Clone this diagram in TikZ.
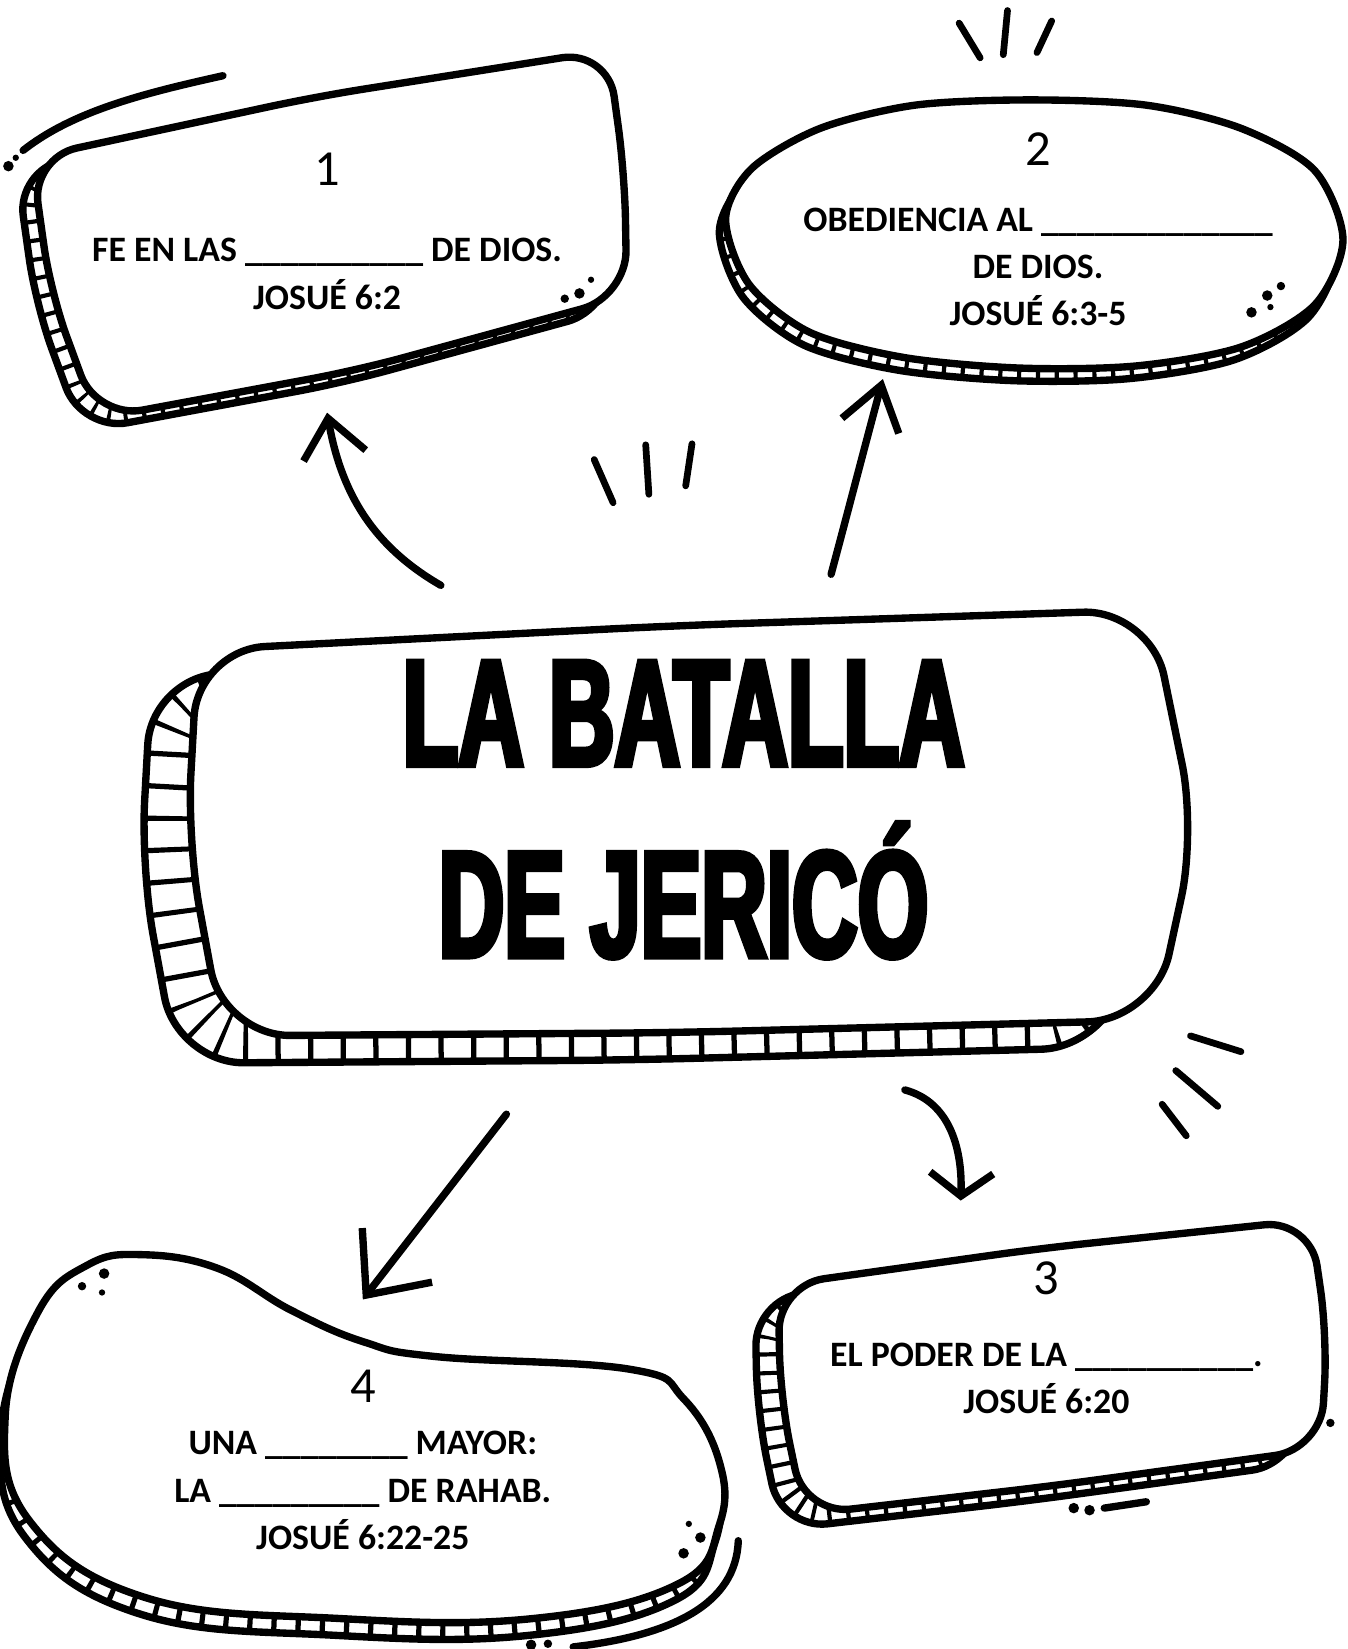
\documentclass[tikz,border=0pt]{standalone}
\usepackage{fontspec}
\setmainfont{Carlito}
\newfontfamily\titulofont[FakeStretch=0.6,BoldFeatures={FakeBold=3.5}]{Liberation Sans}
\usetikzlibrary{arrows.meta}

% formas de los marcos
\newcommand{\formauno}{(30,150) -- (300,92) -- (578,48) -- (594,165) -- (596,282) -- (340,352) -- (92,398) -- (48,278) -- cycle}
\newcommand{\formados}{plot[smooth cycle] coordinates {(690,208) (715,160) (780,122) (870,100) (980,95) (1090,100) (1180,122) (1250,162) (1277,228) (1250,290) (1180,330) (1080,348) (970,350) (860,340) (770,316) (712,270)}}
\newcommand{\formatitulo}{(188,618) -- (640,595) -- (1094,580) -- (1137,790) -- (1098,970) -- (640,982) -- (212,985) -- (178,800) -- cycle}
\newcommand{\formatres}{(740,1222) -- (990,1187) -- (1246,1160) -- (1262,1270) -- (1256,1378) -- (1000,1413) -- (765,1440) -- (742,1330) -- cycle}
\newcommand{\formacuatro}{plot[smooth cycle,tension=0.7] coordinates {(134,1193) (207,1206) (277,1246) (346,1276) (415,1290) (599,1302) (650,1330) (684,1390) (684,1450) (645,1506) (507,1539) (323,1539) (138,1519) (28,1446) (5,1346) (37,1246) (83,1203)}}

% marco con banda rayada
\newcommand{\marco}[4]{%
  \begin{scope}[shift={#2}]
    \fill[white,#3] #1;
    \begin{scope}
      \clip[#3] #1;
      \draw[#3,#4] #1;
    \end{scope}
    \draw[borde,#3] #1;
  \end{scope}
  \filldraw[fill=white,borde,#3] #1;
}
\newcommand{\numero}[1]{{\mdseries\fontsize{24}{24}\selectfont #1}}

\begin{document}
\begin{tikzpicture}[x=0.5pt,y=-0.5pt,
    borde/.style={line width=3.5pt,line join=round,line cap=round},
    rayo/.style={line width=3.2pt,line cap=round},
    flecha/.style={line width=3.5pt,line cap=round,line join=round},
    texto/.style={align=center,font=\bfseries\fontsize{17}{22.5}\selectfont}]
\useasboundingbox (0,0) rectangle (1281,1568);

\marco{\formauno}{(-14,12)}{rounded corners=22pt}{line width=26pt,dash pattern=on 2pt off 7pt}
\marco{\formados}{(-6,12)}{}{line width=22pt,dash pattern=on 2pt off 7pt}
\marco{\formatitulo}{(-44,26)}{rounded corners=32pt}{line width=56pt,dash pattern=on 2.5pt off 13pt}
\marco{\formatres}{(-22,14)}{rounded corners=22pt}{line width=28pt,dash pattern=on 2pt off 7pt}
\marco{\formacuatro}{(-4,16)}{}{line width=22pt,dash pattern=on 2.5pt off 9pt}

% trazos sueltos
\draw[borde] (22,143) .. controls (70,105) and (140,88) .. (212,72);
\fill (8,158) circle (2.5pt) (15,150) circle (1.5pt);
\fill (537,284) circle (2pt) (551,279) circle (2.5pt) (562,266) circle (1.5pt);
\fill (1205,281) circle (2.5pt) (1218,272) circle (2pt) (1190,297) circle (2.5pt) (1208,292) circle (1.5pt);
\fill (99,1211) circle (2.5pt) (78,1223) circle (2pt) (97,1229) circle (1.5pt);
\fill (655,1449) circle (1.5pt) (666,1462) circle (2.5pt) (650,1477) circle (2.5pt);
\draw[borde] (702,1465) .. controls (700,1525) and (640,1555) .. (545,1566);
\fill (505,1564) circle (2.5pt) (521,1563) circle (2pt);
\fill (1021,1434) circle (2.5pt) (1036,1436) circle (2.5pt) (1265,1353) circle (2pt);
\draw[borde] (1050,1434) -- (1090,1428);

% rayitas
\draw[rayo] (912,22) -- (932,55) (958,10) -- (954,52) (1000,20) -- (986,50);
\draw[rayo] (565,437) -- (583,478) (614,423) -- (617,470) (658,422) -- (652,462);
\draw[rayo] (1132,985) -- (1180,1000) (1118,1018) -- (1158,1052) (1105,1050) -- (1128,1080);

% textos
\node[texto,minimum width=285pt,minimum height=172pt] (1) at (311,220) {\numero{1}\\[13.5pt]FE EN LAS \_\_\_\_\_\_\_\_\_\_ DE DIOS.\\JOSUÉ 6:2};
\node[texto,minimum width=292pt,minimum height=142pt] (2) at (987,218) {\numero{2}\\[9pt]OBEDIENCIA AL \_\_\_\_\_\_\_\_\_\_\_\_\_\\DE DIOS.\\JOSUÉ 6:3-5};
\node[texto,minimum width=270pt,minimum height=130pt] (3) at (995,1272) {\numero{3}\\[11.5pt]EL PODER DE LA \_\_\_\_\_\_\_\_\_\_.\\JOSUÉ 6:20};
\node[texto,minimum width=340pt,minimum height=152pt] (4) at (345,1388) {\numero{4}\\[2.5pt]UNA \_\_\_\_\_\_\_\_ MAYOR:\\LA \_\_\_\_\_\_\_\_\_ DE RAHAB.\\JOSUÉ 6:22-25};
\node[align=center,font=\titulofont\bfseries\fontsize{72}{91}\selectfont,minimum width=490pt,minimum height=210pt] (0) at (650,770) {LA BATALLA\\DE JERICÓ};
\coordinate (s3) at ([yshift=-28pt]0.-45);

% flechas
\draw[flecha,-{Straight Barb[length=18pt,width=30pt]},shorten <=3pt] (0.137) to[out=150,in=-80] (1.south);
\draw[flecha,-{Straight Barb[length=20pt,width=28pt]},shorten <=7pt] (0.57) to[out=75,in=-105] (2.224);
\draw[flecha,-{Straight Barb[length=11pt,width=30pt]}] (s3) to[out=-15,in=88] (3.122);
\draw[flecha,-{Straight Barb[length=24pt,width=42pt]},shorten <=50pt] (0.243) -- (4.north);
\end{tikzpicture}
\end{document}
